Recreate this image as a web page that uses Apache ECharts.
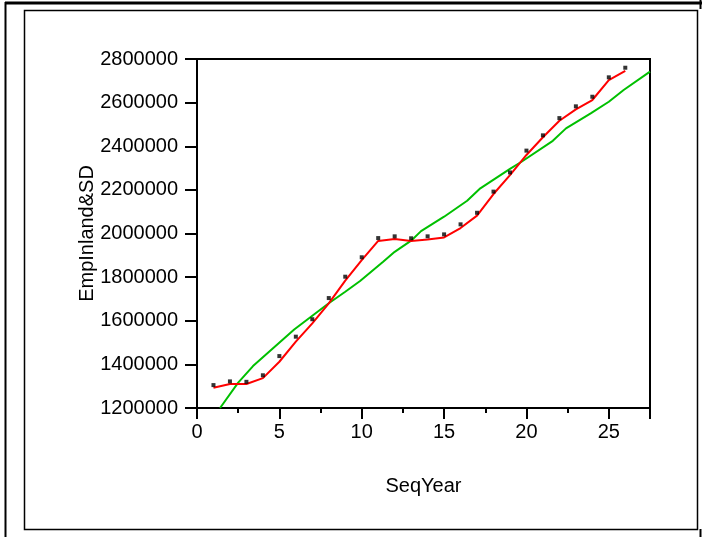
<!DOCTYPE html>
<html>
<head>
<meta charset="utf-8">
<script src="https://cdn.jsdelivr.net/npm/echarts@6/dist/echarts.min.js"></script>
<style>
  html, body { margin: 0; padding: 0; background: #fff; }
  #chart { width: 706px; height: 537px; }
</style>
</head>
<body>
<div id="chart"></div>
<script>
    // observed points (black dots)
    var seqYear = [1, 2, 3, 4, 5, 6, 7, 8, 9, 10, 11, 12, 13, 14, 15, 16, 17, 18, 19, 20, 21, 22, 23, 24, 25, 26];
    var empObserved = [1305000, 1322000, 1320000, 1350000, 1438000, 1527000, 1607000, 1704000, 1802000, 1891000,
                       1979000, 1987000, 1978000, 1987000, 1996000, 2042000, 2095000, 2192000, 2280000, 2380000,
                       2450000, 2529000, 2583000, 2627000, 2716000, 2760000];
    // red smooth
    var empSmooth = [1293000, 1310000, 1310000, 1337000, 1412000, 1504000, 1588000, 1680000, 1784000, 1878000,
                     1966000, 1975000, 1966000, 1973000, 1982000, 2025000, 2082000, 2181000, 2268000, 2360000,
                     2441000, 2517000, 2569000, 2612000, 2703000, 2745000];
    // green fit
    var fitYear = [1.4, 2.5, 3.4, 5.9, 8, 9, 9.9, 11.3, 12, 13, 13.6, 15, 16.4, 17.2, 19, 19.7, 21.6, 22.4, 23.9, 25, 25.9, 27.5];
    var empFit = [1200000, 1316000, 1392000, 1560000, 1680000, 1733000, 1782000, 1870000, 1916000, 1967000, 2011000,
                  2077000, 2150000, 2207000, 2296000, 2329000, 2425000, 2482000, 2551000, 2604000, 2658000, 2742000];

    var xTicks = [0, 5, 10, 15, 20, 25];
    var yTicks = [1200000, 1400000, 1600000, 1800000, 2000000, 2200000, 2400000, 2600000, 2800000];

    var font = "Liberation Sans";

    function pairs(a, b){
        var out = [];
        for (var i = 0; i < a.length; i++) out.push([a[i], b[i]]);
        return out;
    }

    var chart = echarts.init(document.getElementById("chart"), null, {renderer: "canvas"});

    var option = {
        animation: false,
        backgroundColor: "#fff",
        grid: {
            left: 197, top: 59, width: 453, height: 349,
            show: true, borderColor: "#000", borderWidth: 2, backgroundColor: "transparent"
        },
        xAxis: [
            {
                type: "value", min: 0, max: 27.5, interval: 5,
                position: "bottom",
                name: "SeqYear", nameLocation: "middle", nameGap: 68,
                nameTextStyle: {fontFamily: font, fontSize: 20, color: "#000"},
                axisLine: {onZero: false, lineStyle: {color: "#000", width: 2}},
                axisTick: {length: 11, lineStyle: {color: "#000", width: 2}},
                axisLabel: {
                    fontFamily: font, fontSize: 20, color: "#000", margin: 14,
                    formatter: function(v){ return xTicks.indexOf(v) >= 0 ? String(v) : ""; }
                },
                splitLine: {show: false}
            },
            {
                // minor ticks every 2.5
                type: "value", min: 0, max: 27.5, interval: 2.5,
                position: "bottom",
                axisLine: {show: false},
                axisTick: {length: 5, lineStyle: {color: "#000", width: 2}},
                axisLabel: {show: false},
                splitLine: {show: false}
            }
        ],
        yAxis: {
            type: "value", min: 1200000, max: 2800000, interval: 200000,
            name: "EmpInland&SD", nameLocation: "middle", nameGap: 100,
            nameMoveOverlap: false,
            nameTextStyle: {fontFamily: font, fontSize: 20, color: "#000"},
            axisLine: {show: true, lineStyle: {color: "#000", width: 2}},
            axisTick: {show: true, length: 12, lineStyle: {color: "#000", width: 2}},
            axisLabel: {
                fontFamily: font, fontSize: 20, color: "#000", margin: 19,
                formatter: function(v){ return yTicks.indexOf(v) >= 0 ? String(v) : ""; }
            },
            splitLine: {show: false}
        },
        series: [
            {
                type: "line", name: "fit", data: pairs(fitYear, empFit),
                showSymbol: false, symbol: "none",
                lineStyle: {color: "#00c000", width: 2}, z: 2
            },
            {
                type: "line", name: "smooth", data: pairs(seqYear, empSmooth),
                showSymbol: false, symbol: "none",
                lineStyle: {color: "#ff0000", width: 2}, z: 3
            },
            {
                type: "scatter", name: "observed", data: pairs(seqYear, empObserved),
                symbol: "rect", symbolSize: 4,
                itemStyle: {color: "#000"}, z: 4
            }
        ],
        graphic: [
            // outer page frame
            {type: "line", shape: {x1: 5, y1: 3, x2: 702, y2: 3}, style: {stroke: "#000", lineWidth: 3}, silent: true},
            {type: "line", shape: {x1: 5.5, y1: 2, x2: 5.5, y2: 537}, style: {stroke: "#000", lineWidth: 2}, silent: true},
            {type: "line", shape: {x1: 700.5, y1: 0, x2: 700.5, y2: 9}, style: {stroke: "#000", lineWidth: 2}, silent: true},
            {type: "line", shape: {x1: 700.5, y1: 529, x2: 700.5, y2: 537}, style: {stroke: "#000", lineWidth: 2}, silent: true},
            // inner chart frame
            {type: "rect", shape: {x: 24.5, y: 10.5, width: 673, height: 519},
             style: {fill: null, stroke: "#000", lineWidth: 1.5}, silent: true}
        ]
    };

    chart.setOption(option);
</script>
</body>
</html>
